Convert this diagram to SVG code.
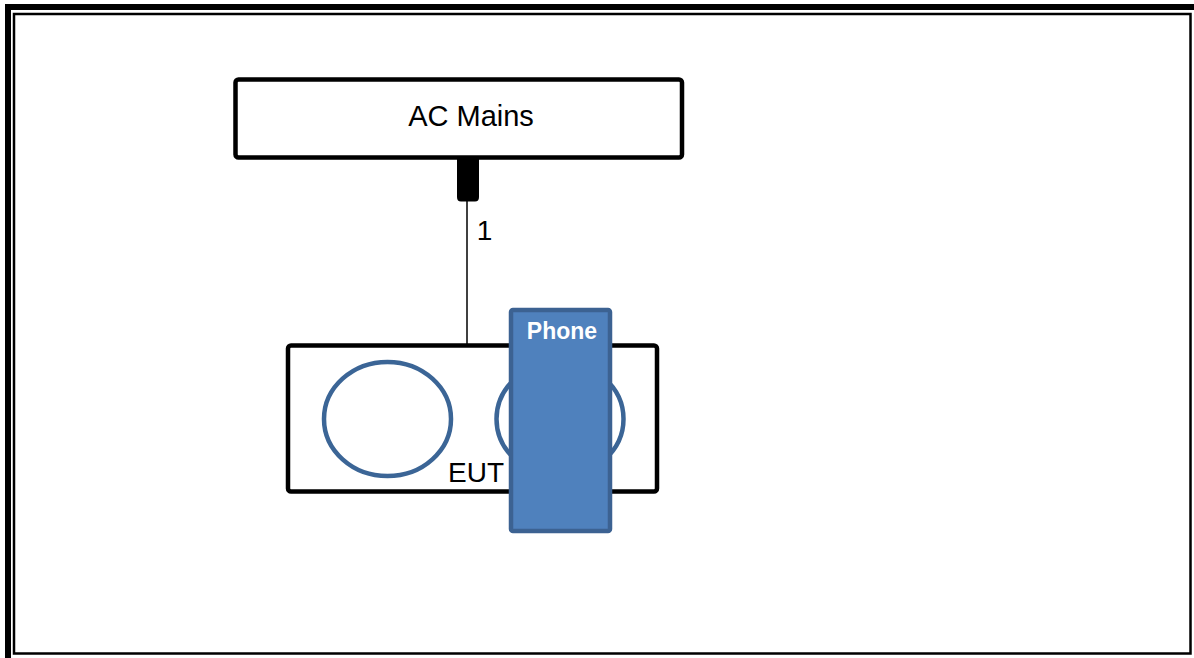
<svg xmlns="http://www.w3.org/2000/svg" width="1194" height="658" viewBox="0 0 1194 658">
  <style>
    .box { fill: #ffffff; stroke: #000000; stroke-width: 4.5; }
    .lbl { font-family: "Liberation Sans", Arial, sans-serif; fill: #000000; }
    .ring { fill: none; stroke: #3B6596; stroke-width: 4.5; }
    .wire { stroke: #000000; stroke-width: 1.5; fill: none; }
  </style>
  <rect x="0" y="0" width="1194" height="658" fill="#ffffff"/>
  <g id="frame">
    <rect x="8" y="7" width="1200" height="670" fill="none" stroke="#000000" stroke-width="6"/>
    <rect x="14" y="14" width="1176.5" height="639.5" fill="none" stroke="#000000" stroke-width="2.5"/>
  </g>
  <g id="connectors">
    <line class="wire" x1="467" y1="200" x2="467" y2="346"/>
    <path d="M457,158 H479 V197 Q479,201.5 475,201.5 H461 Q457,201.5 457,197 Z" fill="#000000"/>
    <text class="lbl" x="484.5" y="240" font-size="28" text-anchor="middle">1</text>
  </g>
  <g id="ac-mains">
    <rect class="box" x="235.5" y="79.5" width="446.5" height="78" rx="3"/>
    <text class="lbl" x="471" y="126" font-size="29" text-anchor="middle">AC Mains</text>
  </g>
  <g id="eut">
    <rect class="box" x="288" y="345.5" width="369" height="146" rx="3"/>
    <ellipse class="ring" cx="387.5" cy="419" rx="63.5" ry="57"/>
    <ellipse class="ring" cx="560" cy="419" rx="63.5" ry="57"/>
    <text class="lbl" x="476" y="482" font-size="28" text-anchor="middle">EUT</text>
  </g>
  <g id="phone">
    <rect x="511" y="310" width="99" height="221" rx="2" fill="#4F81BD" stroke="#3C6292" stroke-width="4.5"/>
    <text x="562" y="339" font-family="Liberation Sans, Arial, sans-serif" font-weight="bold" font-size="23" fill="#ffffff" text-anchor="middle">Phone</text>
  </g>
</svg>
